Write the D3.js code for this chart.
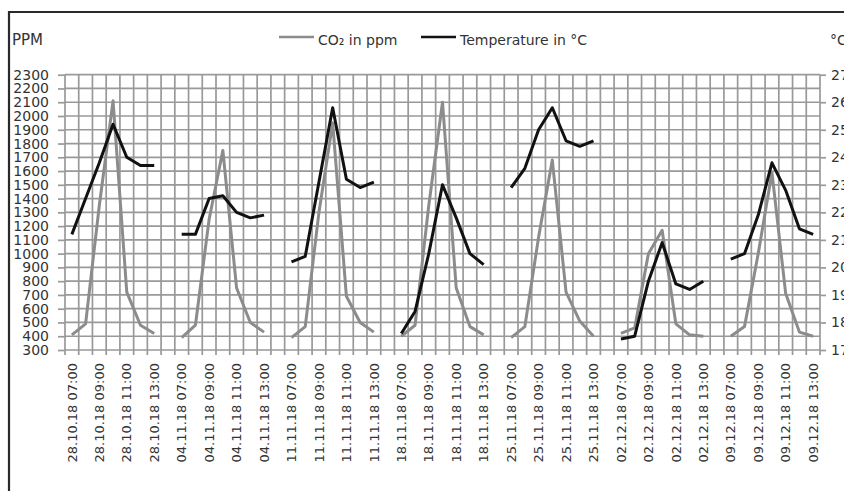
<!DOCTYPE html>
<html>
<head>
<meta charset="utf-8">
<script src="https://cdn.jsdelivr.net/npm/d3@7/dist/d3.min.js"></script>
<style>
  body { margin: 0; background: #fff; }
  svg { display: block; font-family: 'DejaVu Sans', sans-serif; }
</style>
</head>
<body>
<svg id="chart" width="844" height="491"></svg>
<script>
// sampling days and hours
const dates = ['28.10.18', '04.11.18', '11.11.18', '18.11.18', '25.11.18', '02.12.18', '09.12.18'];
const hours = ['07:00', '08:00', '09:00', '10:00', '11:00', '12:00', '13:00'];
const labelHours = ['07:00', '09:00', '11:00', '13:00'];

// CO2 in ppm, one row per day
const co2 = [
  [410, 490, 1350, 2110, 720, 480, 420],
  [390, 480, 1250, 1750, 750, 500, 430],
  [390, 470, 1300, 1950, 690, 500, 430],
  [400, 480, 1350, 2100, 750, 470, 410],
  [390, 470, 1120, 1680, 720, 510, 400],
  [420, 460, 1000, 1170, 490, 410, 400],
  [400, 470, 1000, 1590, 710, 430, 400]
];

// temperature in °C, one row per day
const temperature = [
  [21.2, 22.5, 23.8, 25.2, 24.0, 23.7, 23.7],
  [21.2, 21.2, 22.5, 22.6, 22.0, 21.8, 21.9],
  [20.2, 20.4, 23.1, 25.8, 23.2, 22.9, 23.1],
  [17.6, 18.4, 20.5, 23.0, 21.8, 20.5, 20.1],
  [22.9, 23.6, 25.0, 25.8, 24.6, 24.4, 24.6],
  [17.4, 17.5, 19.5, 20.9, 19.4, 19.2, 19.5],
  [20.3, 20.5, 21.9, 23.8, 22.8, 21.4, 21.2]
];

const ppmTicks = d3.range(300, 2301, 100);
const tempTicks = d3.range(17, 28, 1);

// build category list: 7 hours per day + one empty slot between days
let cats = [];
dates.forEach((d, di) => {
  hours.forEach((h, hi) => {
    cats.push({key: d + ' ' + h, hour: h, co2: co2[di][hi], temp: temperature[di][hi]});
  });
  if (di < dates.length - 1) cats.push({key: 'gap' + di, hour: null, co2: null, temp: null});
});

const pLeft = 65, pRight = 820, pTop = 74.7, pBottom = 350;

const svg = d3.select('#chart');

const x = d3.scaleBand()
  .domain(cats.map(c => c.key))
  .range([pLeft, pRight])
  .padding(0);

const y = d3.scaleLinear().domain([300, 2300]).range([pBottom, pTop]);
const yT = d3.scaleLinear().domain([17, 27]).range([pBottom, pTop]);

// outer frame
svg.append('path')
  .attr('d', 'M9,491V12H844')
  .attr('fill', 'none')
  .attr('stroke', '#2a2a2a')
  .attr('stroke-width', 2.2);

// horizontal grid
svg.append('g')
  .selectAll('line')
  .data(ppmTicks)
  .enter()
  .append('line')
  .attr('x1', pLeft)
  .attr('x2', pRight)
  .attr('y1', d => y(d))
  .attr('y2', d => y(d))
  .attr('stroke', '#999')
  .attr('stroke-width', 1.7);

// vertical grid at category boundaries
let bounds = cats.map(c => x(c.key)).concat([pRight]);
svg.append('g')
  .selectAll('line')
  .data(bounds)
  .enter()
  .append('line')
  .attr('x1', d => d)
  .attr('x2', d => d)
  .attr('y1', pTop)
  .attr('y2', pBottom + 5)
  .attr('stroke', '#999')
  .attr('stroke-width', 1.7);

// left axis
const axL = svg.append('g')
  .attr('transform', `translate(${pLeft},0)`)
  .call(d3.axisLeft(y).tickValues(ppmTicks).tickFormat(d3.format('d')).tickSize(7).tickPadding(9));
axL.select('.domain').remove();
axL.selectAll('line').attr('stroke', '#999').attr('stroke-width', 1.7);
axL.selectAll('text')
  .attr('fill', '#333')
  .style('font-size', '14px')
  .style('font-family', 'DejaVu Sans');

// right axis
const axR = svg.append('g')
  .attr('transform', `translate(${pRight},0)`)
  .call(d3.axisRight(yT).tickValues(tempTicks).tickFormat(d3.format('d')).tickSize(6).tickPadding(5));
axR.select('.domain').remove();
axR.selectAll('line').attr('stroke', '#999').attr('stroke-width', 1.7);
axR.selectAll('text')
  .attr('fill', '#333')
  .style('font-size', '14px')
  .style('font-family', 'DejaVu Sans');

// bottom labels, every other category
const axB = svg.append('g')
  .attr('transform', `translate(0,${pBottom})`)
  .call(d3.axisBottom(x)
    .tickValues(cats.filter(c => labelHours.includes(c.hour)).map(c => c.key))
    .tickSize(0));
axB.select('.domain').remove();
axB.selectAll('text')
  .attr('transform', 'rotate(-90)')
  .attr('x', -13)
  .attr('y', 0)
  .attr('dy', '0.36em')
  .style('text-anchor', 'end')
  .attr('fill', '#333')
  .style('font-size', '13px')
  .style('font-family', 'DejaVu Sans');

const xc = d => x(d.key) + x.bandwidth() / 2;

// CO2 line
svg.append('path')
  .datum(cats)
  .attr('fill', 'none')
  .attr('stroke', '#8c8c8c')
  .attr('stroke-width', 3)
  .attr('stroke-linejoin', 'round')
  .attr('d', d3.line().defined(d => d.co2 != null).x(xc).y(d => y(d.co2)));

// temperature line
svg.append('path')
  .datum(cats)
  .attr('fill', 'none')
  .attr('stroke', '#111')
  .attr('stroke-width', 3)
  .attr('stroke-linejoin', 'round')
  .attr('d', d3.line().defined(d => d.temp != null).x(xc).y(d => yT(d.temp)));

// axis titles
svg.append('text')
  .attr('x', 12)
  .attr('y', 45)
  .attr('fill', '#333')
  .style('font-size', '15px')
  .text('PPM');

svg.append('text')
  .attr('x', 830)
  .attr('y', 45)
  .attr('fill', '#333')
  .style('font-size', '14px')
  .text('°C');

// legend
const legend = [
  {name: 'CO₂ in ppm', color: '#8c8c8c', x: 279},
  {name: 'Temperature in °C', color: '#111', x: 421}
];
const lg = svg.append('g')
  .selectAll('g')
  .data(legend)
  .enter()
  .append('g')
  .attr('transform', d => `translate(${d.x},0)`);

lg.append('line')
  .attr('x1', 0)
  .attr('x2', 35)
  .attr('y1', 37)
  .attr('y2', 37)
  .attr('stroke', d => d.color)
  .attr('stroke-width', 2.5);

lg.append('text')
  .attr('x', 39)
  .attr('y', 45)
  .attr('fill', '#333')
  .style('font-size', '14px')
  .text(d => d.name);
</script>
</body>
</html>
